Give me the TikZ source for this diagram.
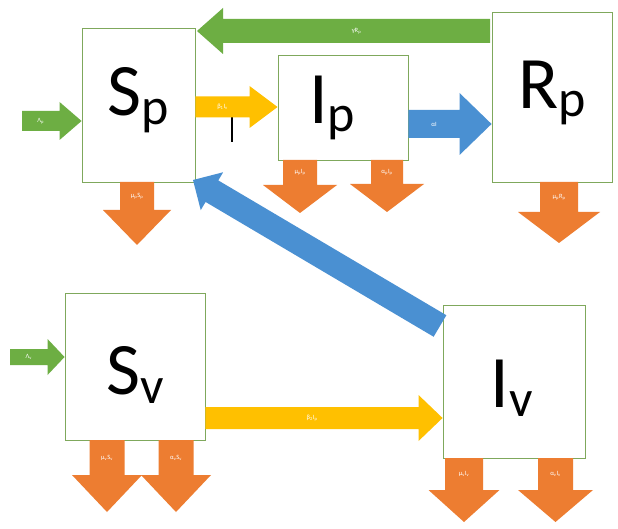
\documentclass[tikz,border=0pt]{standalone}
\usepackage{fontspec}
\setmainfont{Carlito}
\usetikzlibrary{calc}
\definecolor{cgreen}{HTML}{6DAE43}
\definecolor{cyellow}{HTML}{FFC000}
\definecolor{cblue}{HTML}{4A90D2}
\definecolor{corange}{HTML}{ED7D31}
\definecolor{cbox}{HTML}{7FA85C}
\newcommand\sbs[1]{\raisebox{-0.12em}{\fontsize{52}{52}\selectfont #1}}
\newcommand\ssub[1]{\textsubscript{#1}}
% #1 colour, #2 from, #3 to, #4 half shaft, #5 half head, #6 head length, #7 label
\newcommand\barrow[7]{%
  \fill[#1] let \p1=(#2), \p2=(#3),
    \n1={atan2(\y2-\y1,\x2-\x1)}, \n2={veclen(\x2-\x1,\y2-\y1)} in
    [shift={(\p2)}, rotate=\n1]
    (0,0) -- ({-#6},#5) -- ({-#6},#4) -- ({-\n2},#4) -- ({-\n2},-#4)
    -- ({-#6},-#4) -- ({-#6},-#5) -- cycle
    ({-(\n2+#6)/2},0) node[lbl] {#7};}
\begin{document}
\begin{tikzpicture}[x=1pt,y=-1pt,
  box/.style={draw=cbox, line width=0.9pt, fill=white, inner sep=0pt},
  big/.style={font=\fontsize{74}{74}\selectfont, inner sep=0pt},
  lbl/.style={text=white, font=\fontsize{6.5}{7}\selectfont, inner sep=0pt}]
\useasboundingbox[fill=white] (0,0) rectangle (618,529);
% boxes
\node[box, minimum width=113pt, minimum height=154pt] (Sp) at (138.5,105) {};
\node[box, minimum width=130pt, minimum height=105pt] (Ip) at (343,107.5) {};
\node[box, minimum width=120pt, minimum height=170pt] (Rp) at (552,97) {};
\node[box, minimum width=140pt, minimum height=147pt] (Sv) at (135,366.5) {};
\node[box, minimum width=142pt, minimum height=153pt] (Iv) at (514,381.5) {};
\node[big] (tSp) at (138,100) {S\sbs{p}};
\node[big] (tIp) at (332,108) {I\sbs{p}};
\node[big] (tRp) at (552,93) {R\sbs{p}};
\node[big] (tSv) at (135,375) {S\sbs{v}};
\node[big] (tIv) at (512,388) {I\sbs{v}};
% stray mark
\coordinate (m1) at (232,116);
\coordinate (m2) at (232,142);
\draw[line width=2.4pt] (m1) -- (m2);
% coordinates for arrow ends
\coordinate (g1) at (490,31);   \coordinate (g2) at (197,31);
\coordinate (lp1) at (22,121);  \coordinate (lp2) at (Sp.west |- lp1);
\coordinate (y1) at (Sp.east |- 0,107); \coordinate (y2) at (Ip.west |- 0,107);
\coordinate (b1) at (Ip.east |- 0,124); \coordinate (b2) at (Rp.west |- 0,124);
\coordinate (o1a) at (137,182); \coordinate (o1b) at (137,245);
\coordinate (o2a) at (300,160); \coordinate (o2b) at (300,213);
\coordinate (o3a) at (387,160); \coordinate (o3b) at (387,212);
\coordinate (o4a) at (559,182); \coordinate (o4b) at (559,243);
\coordinate (lv1) at (10,357);  \coordinate (lv2) at (Sv.west |- lv1);
\coordinate (yv1) at (Sv.east |- 0,418); \coordinate (yv2) at (Iv.west |- 0,418);
\coordinate (o5a) at (107,440); \coordinate (o5b) at (107,512);
\coordinate (o6a) at (176,440); \coordinate (o6b) at (176,512);
\coordinate (o7a) at (464,458); \coordinate (o7b) at (464,522);
\coordinate (o8a) at (555.5,458); \coordinate (o8b) at (555.5,522);
\coordinate (d1) at (440,326);  \coordinate (d2) at (193,180);
% arrows
\barrow{cgreen}{g1}{g2}{12}{23}{26}{γR\ssub{p}}
\barrow{cgreen}{lp1}{lp2}{10}{19}{22}{Λ\ssub{p}}
\barrow{cyellow}{y1}{y2}{10.5}{21}{28}{β\ssub{1}I\ssub{v}}
\barrow{cblue}{b1}{b2}{14}{31}{32}{αI}
\barrow{corange}{o1a}{o1b}{17}{34}{35}{μ\ssub{p}S\ssub{p}}
\barrow{corange}{o2a}{o2b}{17}{37}{28}{μ\ssub{p}I\ssub{p}}
\barrow{corange}{o3a}{o3b}{16}{37}{28}{α\ssub{p}I\ssub{p}}
\barrow{corange}{o4a}{o4b}{19}{41}{31}{μ\ssub{p}R\ssub{p}}
\barrow{cgreen}{lv1}{lv2}{8}{18}{17}{Λ\ssub{v}}
\barrow{cyellow}{yv1}{yv2}{11}{23}{24}{β\ssub{2}I\ssub{p}}
\barrow{corange}{o5a}{o5b}{17.5}{35}{37}{μ\ssub{v}S\ssub{v}}
\barrow{corange}{o6a}{o6b}{17.5}{35}{37}{α\ssub{v}S\ssub{v}}
\barrow{corange}{o7a}{o7b}{19}{35.5}{32}{μ\ssub{v}I\ssub{v}}
\barrow{corange}{o8a}{o8b}{17.5}{37.5}{32}{α\ssub{v}I\ssub{v}}
\barrow{cblue}{d1}{d2}{12.5}{22}{22}{}
\end{tikzpicture}
\end{document}
